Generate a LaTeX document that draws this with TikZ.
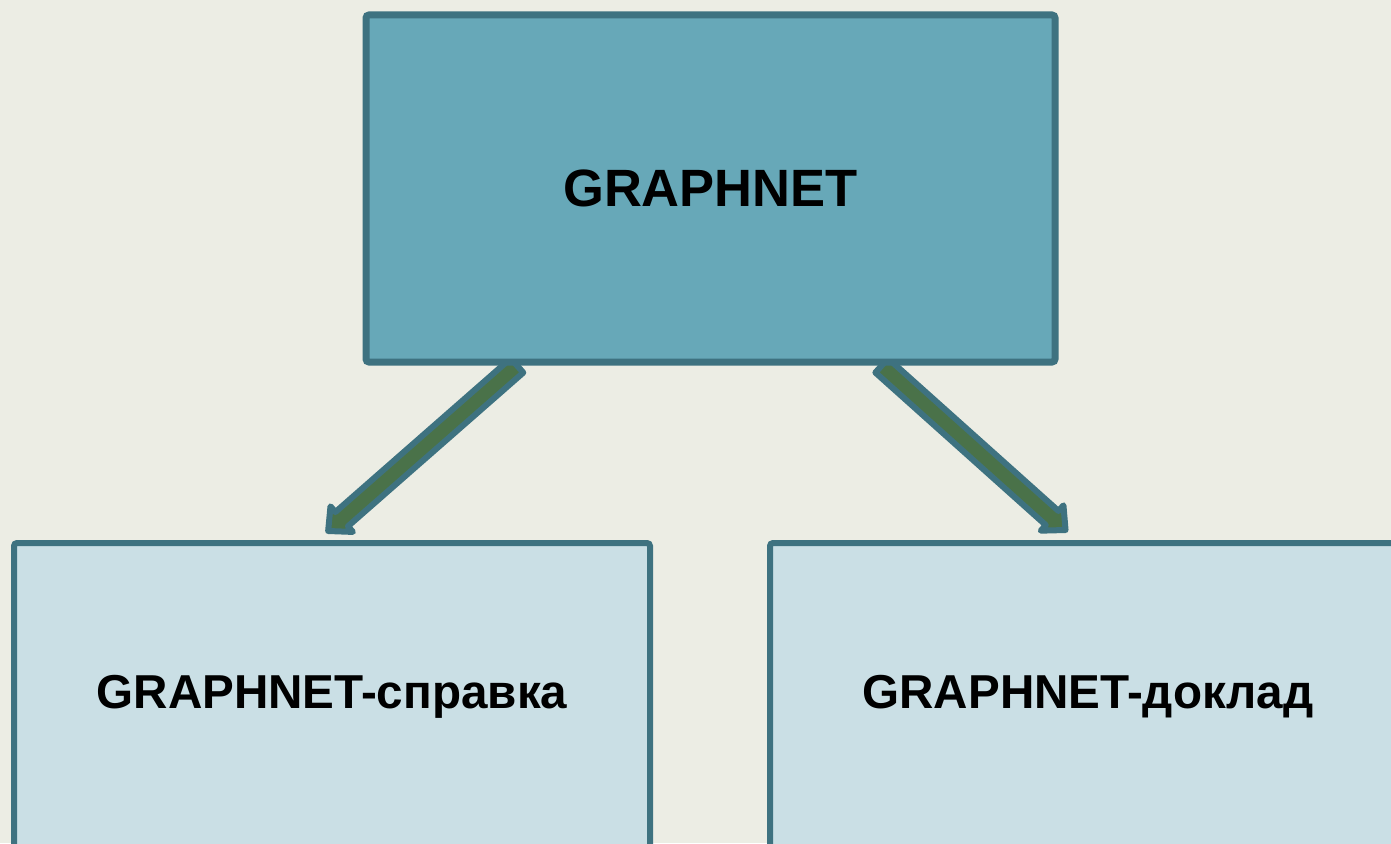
\documentclass[tikz,border=0pt]{standalone}
\usepackage{fontspec}
\setmainfont{Liberation Sans}
\usetikzlibrary{calc,backgrounds}
\definecolor{bgc}{RGB}{236,237,228}
\definecolor{topfill}{RGB}{103,168,184}
\definecolor{edgec}{RGB}{62,114,128}
\definecolor{lowfill}{RGB}{202,223,229}
\definecolor{arrowfill}{RGB}{74,114,73}
\tikzset{
  topbox/.style={draw=edgec, fill=topfill, line width=7pt, rounded corners=3pt,
    minimum width=689pt, minimum height=347pt, inner sep=0pt,
    font=\fontsize{52.5}{60}\selectfont\bfseries},
  lowbox/.style={draw=edgec, fill=lowfill, line width=6pt, rounded corners=3pt,
    minimum width=636pt, minimum height=308pt, inner sep=0pt,
    font=\fontsize{47.6}{56}\selectfont\bfseries},
  barrow/.style={draw=edgec, fill=arrowfill, line width=6pt, line join=round}
}
\newcommand\blockarrow[2]{%
  \coordinate (hb) at ($(#2)!18pt!(#1)$);
  \filldraw[barrow] ($(#1)!9.5pt!90:(#2)$) -- ($(hb)!9.5pt!-90:(#1)$) -- ($(hb)!17pt!-90:(#1)$)
    -- (#2) -- ($(hb)!17pt!90:(#1)$) -- ($(hb)!9.5pt!90:(#1)$) -- ($(#1)!9.5pt!-90:(#2)$) -- cycle;
}
\begin{document}
\begin{tikzpicture}[x=1pt,y=-1pt]
\useasboundingbox (0,0) rectangle (1391,843);
\clip (0,0) rectangle (1391,843);
\node[topbox] (top) at (710.5,188.5) {GRAPHNET};
\node[lowbox] (left) at (332,697) {GRAPHNET-справка};
\node[lowbox] (right) at (1088,697) {GRAPHNET-доклад};
\coordinate (s1) at ($(top.south west)!0.222!(top.south east)$);
\coordinate (s2) at ($(top.south west)!0.746!(top.south east)$);
\coordinate (t1) at ($(left.north west)!0.494!(left.north east)+(0,-9)$);
\coordinate (t2) at ($(right.north west)!0.465!(right.north east)+(0,-10)$);
\begin{pgfonlayer}{background}
\fill[bgc] (0,0) rectangle (1391,843);
\blockarrow{s1}{t1}
\blockarrow{s2}{t2}
\end{pgfonlayer}
\end{tikzpicture}
\end{document}
